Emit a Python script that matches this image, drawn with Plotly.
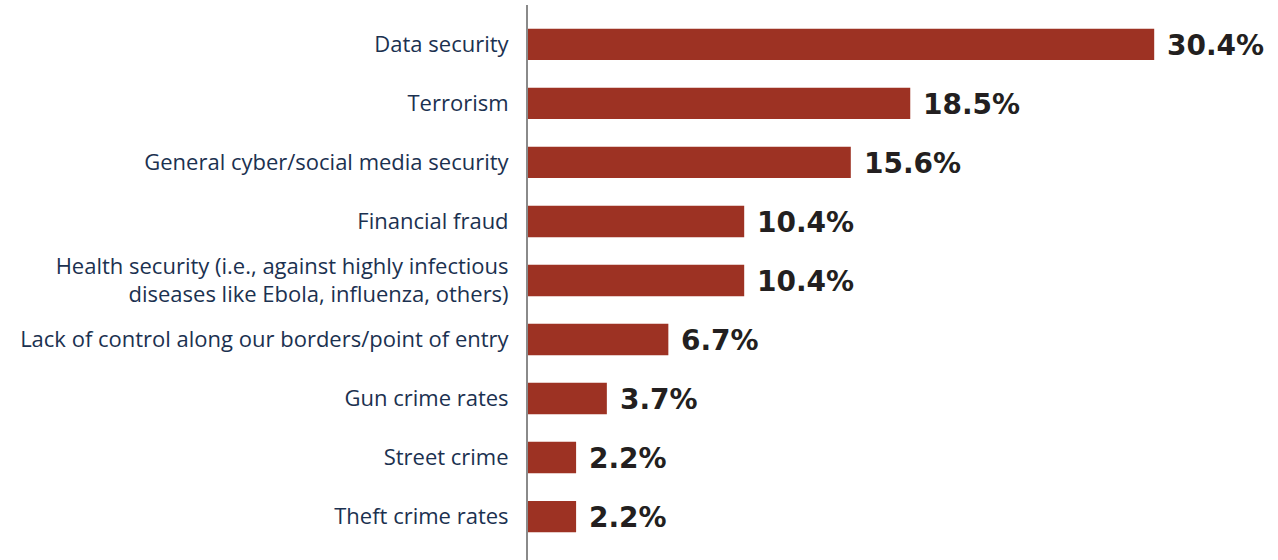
import plotly.graph_objects as go

# Survey categories (top to bottom) and their shares in percent
categories = [
    "Data security",
    "Terrorism",
    "General cyber/social media security",
    "Financial fraud",
    "Health security (i.e., against highly infectious<br>diseases like Ebola, influenza, others)",
    "Lack of control along our borders/point of entry",
    "Gun crime rates",
    "Street crime",
    "Theft crime rates",
]
values = [30.4, 18.5, 15.6, 10.4, 10.4, 6.7, 3.7, 2.2, 2.2]
value_labels = ["30.4%", "18.5%", "15.6%", "10.4%", "10.4%", "6.7%", "3.7%", "2.2%", "2.2%"]

BAR_COLOR = "#9d3223"
LABEL_COLOR = "#1b3150"
VALUE_COLOR = "#231f20"

PX_PER_UNIT = 20.5
X_MIN = -3 / PX_PER_UNIT          # small lead-in between axis line and zero
X_MAX = X_MIN + 750 / PX_PER_UNIT

# Bars start flush against the axis line and end at their value
fig = go.Figure(
    go.Bar(
        x=[v - X_MIN for v in values],
        base=[X_MIN] * len(values),
        y=categories,
        orientation="h",
        marker=dict(color=BAR_COLOR, line=dict(width=0)),
        width=0.53,
        hoverinfo="skip",
    )
)

# Bold value labels placed just right of each bar end
for cat, v, lbl in zip(categories, values, value_labels):
    fig.add_annotation(
        x=v, y=cat, text=f"<b>{lbl}</b>", showarrow=False,
        xanchor="left", yanchor="middle", xshift=11, yshift=-1,
        font=dict(family="DejaVu Sans", size=28, color=VALUE_COLOR),
    )

fig.update_layout(
    width=1278, height=560,
    margin=dict(l=528, r=0, t=5, b=0),
    paper_bgcolor="white", plot_bgcolor="white",
    showlegend=False,
    xaxis=dict(range=[X_MIN, X_MAX], visible=False, fixedrange=True),
    yaxis=dict(
        type="category",
        range=[8.737, -0.669],
        showgrid=False, zeroline=False,
        showline=True, linecolor="#8a8a8a", linewidth=2,
        ticks="", ticklabelstandoff=13,
        tickfont=dict(family="Open Sans", size=22, color=LABEL_COLOR),
    ),
)

fig.write_html("out.html")
